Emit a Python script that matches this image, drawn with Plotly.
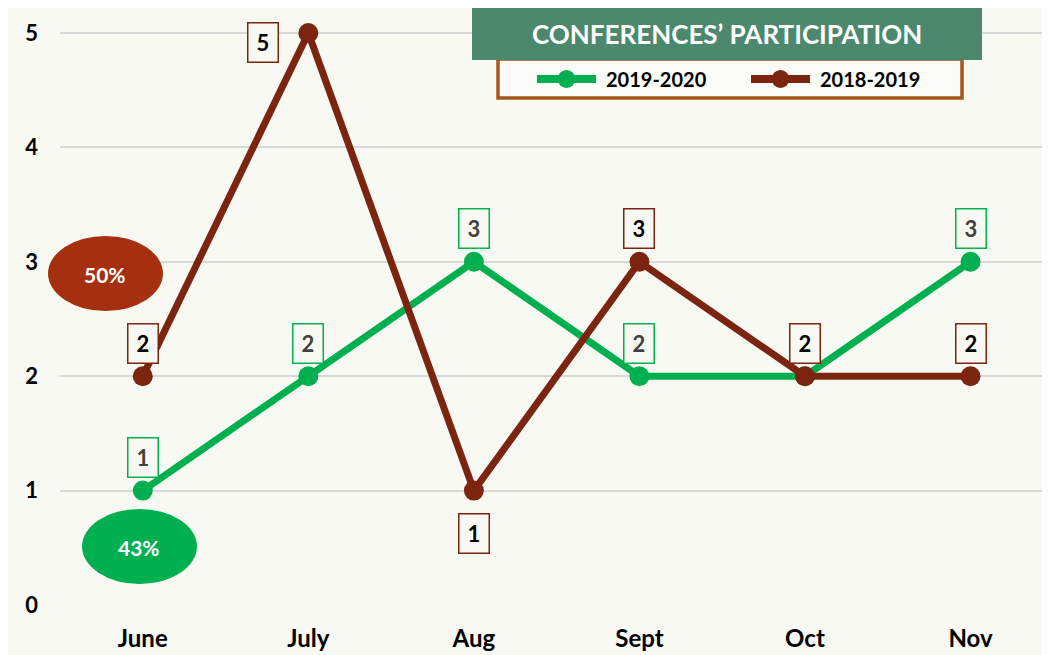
import plotly.graph_objects as go

months = ["June", "July", "Aug", "Sept", "Oct", "Nov"]
s2019_2020 = [1, 2, 3, 2, 2, 3]
s2018_2019 = [2, 5, 1, 3, 2, 2]
name_a = "2019-2020"
name_b = "2018-2019"
title_text = "CONFERENCES’ PARTICIPATION"
pct_a = "43%"
pct_b = "50%"

GREEN = "#00b050"
BROWN = "#7b2410"
BG = "#f9f9f4"
FONT = "Lato"

OFF = 8  # page body offset
W, H = 1042, 647
ML, MR, MT, MB = 52, 0, 0, 50
YMAX = 5 + 25 / 114.4

def sx(x):
    return (x - OFF - ML) / (W - ML - MR)

def sy(y):
    return (H - MB - (y - OFF)) / (H - MB - MT)

fig = go.Figure()
fig.add_trace(go.Scatter(x=months, y=s2019_2020, name=name_a, mode="lines+markers",
                         line=dict(color=GREEN, width=7), marker=dict(size=20, color=GREEN)))
fig.add_trace(go.Scatter(x=months, y=s2018_2019, name=name_b, mode="lines+markers",
                         line=dict(color=BROWN, width=7), marker=dict(size=20, color=BROWN)))

ann = []
def label(x, y, text, border, color, xshift=0, yshift=33):
    ann.append(dict(x=x, y=y, xref="x", yref="y", text=f"<b>{text}</b>", showarrow=False,
                    xshift=xshift, yshift=yshift, bordercolor=border, borderwidth=1.5,
                    borderpad=4, bgcolor=BG, font=dict(family=FONT, size=22, color=color),
                    width=21, height=30, xanchor="center", yanchor="middle"))

for m, v in zip(months, s2019_2020):
    label(m, v, v, GREEN, "#404040")
for m, v in zip(months, s2018_2019):
    if m == "July":
        label(m, v, v, BROWN, "#000000", xshift=-45, yshift=-9)
    elif m == "Aug":
        label(m, v, v, BROWN, "#000000", yshift=-43)
    else:
        label(m, v, v, BROWN, "#000000")

shapes = []
# ellipses
shapes.append(dict(type="circle", xref="paper", yref="paper", x0=sx(48), x1=sx(163),
                   y0=sy(311), y1=sy(236), fillcolor="#a5300f", line=dict(width=0), layer="above"))
shapes.append(dict(type="circle", xref="paper", yref="paper", x0=sx(82), x1=sx(197),
                   y0=sy(584), y1=sy(509), fillcolor=GREEN, line=dict(width=0), layer="above"))
ann.append(dict(x=sx(105), y=sy(274), xref="paper", yref="paper", text=f"<b>{pct_b}</b>",
                showarrow=False, xanchor="center", yanchor="middle",
                font=dict(family=FONT, size=21, color="white")))
ann.append(dict(x=sx(139), y=sy(547), xref="paper", yref="paper", text=f"<b>{pct_a}</b>",
                showarrow=False, xanchor="center", yanchor="middle",
                font=dict(family=FONT, size=21, color="white")))

# legend box (drawn manually)
shapes.append(dict(type="rect", xref="paper", yref="paper", x0=sx(498), x1=sx(962),
                   y0=sy(98), y1=sy(59), fillcolor="#fbfbf8",
                   line=dict(color="#a5561b", width=3.5), layer="above"))
for (x0, x1, col, name, tx) in [(537, 596, GREEN, name_a, 604), (751, 810, BROWN, name_b, 818)]:
    shapes.append(dict(type="line", xref="paper", yref="paper", x0=sx(x0), x1=sx(x1),
                       y0=sy(79), y1=sy(79), line=dict(color=col, width=8), layer="above"))
    cx = (x0 + x1) / 2
    shapes.append(dict(type="circle", xref="paper", yref="paper", x0=sx(cx - 9), x1=sx(cx + 9),
                       y0=sy(88), y1=sy(70), fillcolor=col, line=dict(width=0), layer="above"))
    ann.append(dict(x=sx(tx), y=sy(79), xref="paper", yref="paper", text=f"<b>{name}</b>",
                    showarrow=False, xanchor="left", yanchor="middle",
                    font=dict(family=FONT, size=20, color="black")))

# title box
shapes.append(dict(type="rect", xref="paper", yref="paper", x0=sx(472), x1=sx(982),
                   y0=sy(60), y1=sy(8), fillcolor="#4b886d", line=dict(width=0), layer="above"))
ann.append(dict(x=sx(727), y=sy(34), xref="paper", yref="paper", text=f"<b>{title_text}</b>",
                showarrow=False, xanchor="center", yanchor="middle",
                font=dict(family=FONT, size=26, color="white")))

fig.update_layout(
    width=W, height=H, margin=dict(l=ML, r=MR, t=MT, b=MB, autoexpand=False),
    paper_bgcolor=BG, plot_bgcolor=BG,
    showlegend=False,
    annotations=ann, shapes=shapes,
    xaxis=dict(range=[-0.5, 5.48], showgrid=False, zeroline=False, showline=False,
               tickfont=dict(family=FONT, size=24, color="black", weight="bold"), ticks="",
               ticklabelstandoff=17),
    yaxis=dict(range=[0, YMAX], tickvals=[0, 1, 2, 3, 4, 5], showgrid=True,
               gridcolor="#d9d9d9", gridwidth=2, zeroline=False,
               tickfont=dict(family=FONT, size=22, color="black", weight="bold"),
               ticks="", ticklabelstandoff=21),
)
fig.write_html("out.html")
